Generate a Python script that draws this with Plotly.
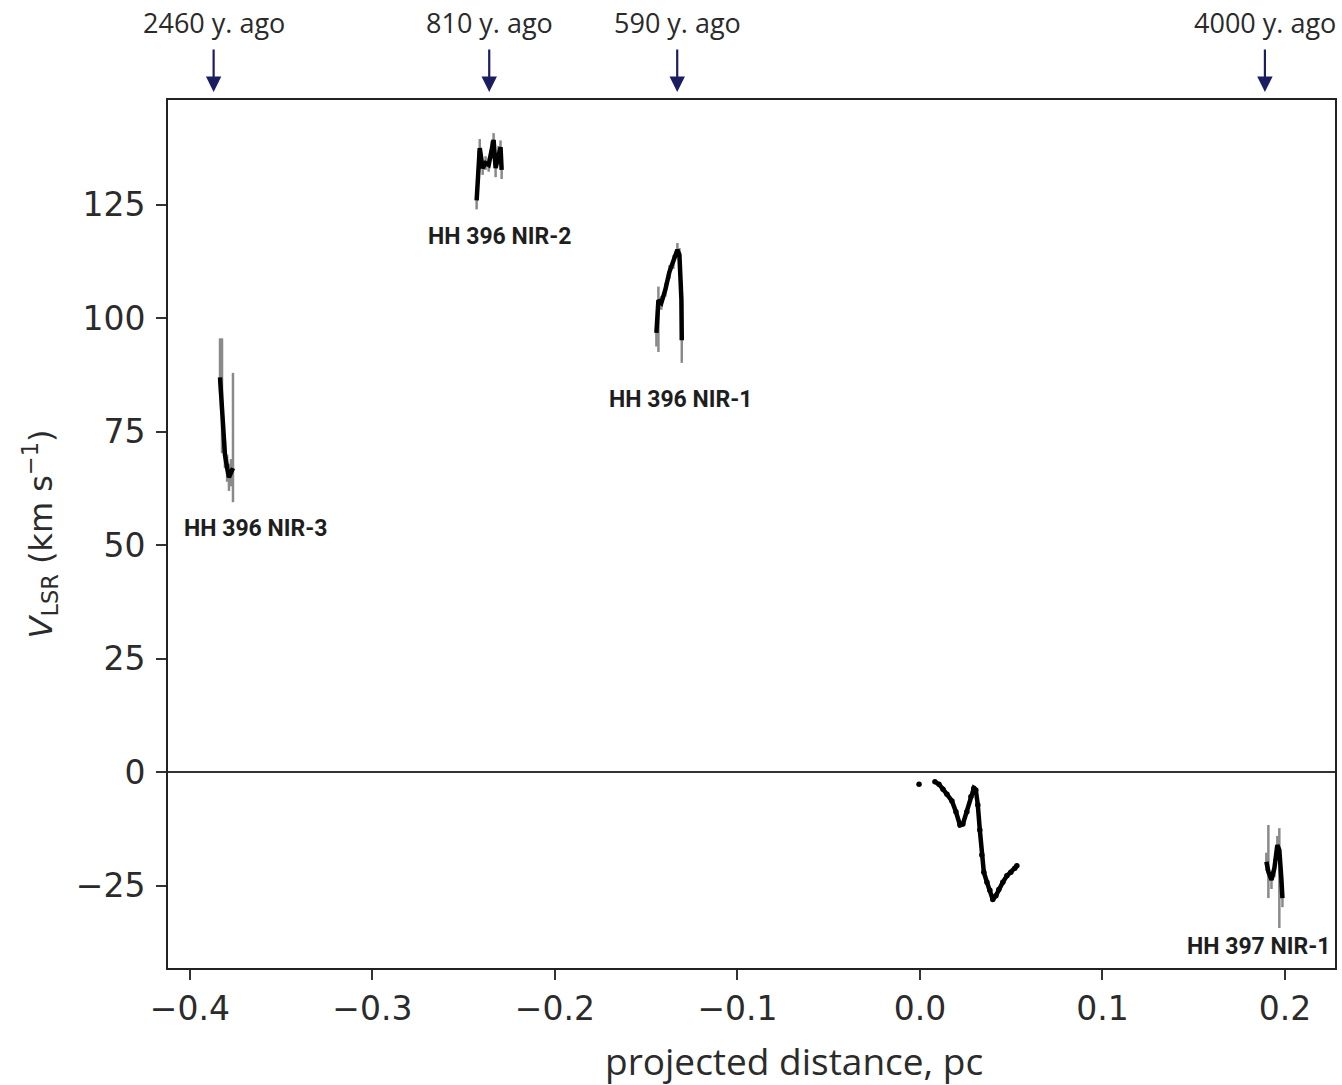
import plotly.graph_objects as go

# ---- HH 396 / HH 397 radial velocity profiles along the flow ----

# HH 396 NIR-3
nir3_x = [-0.3835, -0.3829, -0.3824, -0.3818, -0.3808, -0.3796, -0.3786, -0.3775, -0.3764]
nir3_v = [87.0, 83.0, 78.0, 74.0, 70.0, 67.0, 65.0, 66.0, 67.0]
nir3_hi = [8.6, 3.0, 17.6, 3.0, 3.0, 3.0, 3.0, 3.0, 21.0]
nir3_lo = [3.0, 3.0, 7.7, 3.0, 3.0, 3.0, 3.0, 3.0, 7.5]

# HH 396 NIR-2
nir2_x = [-0.2429, -0.2423, -0.2418, -0.2412, -0.2396, -0.2380, -0.2363,
          -0.2347, -0.2336, -0.2325, -0.2309, -0.2298, -0.2292]
nir2_v = [126.0, 130.5, 134.9, 137.5, 133.1, 134.2, 133.8,
          137.1, 139.3, 133.1, 136.0, 137.7, 132.7]
nir2_hi = [2.0, 2.0, 2.0, 2.0, 1.5, 1.5, 1.5, 2.0, 1.5, 2.0, 2.0, 1.5, 2.0]
nir2_lo = [2.0, 2.0, 2.0, 2.0, 1.5, 1.5, 1.5, 2.0, 1.5, 2.0, 2.0, 1.5, 2.0]

# HH 396 NIR-1
nir1_x = [-0.1444, -0.1439, -0.1433, -0.1417, -0.1395, -0.1373, -0.1351,
          -0.1329, -0.1318, -0.1307, -0.1305]
nir1_v = [96.8, 101.8, 104.0, 103.4, 106.3, 110.2, 112.4, 115.1, 114.0, 104.1, 95.2]
nir1_hi = [2.0, 2.0, 3.0, 1.5, 1.5, 1.5, 1.5, 1.5, 1.5, 1.5, 1.5]
nir1_lo = [3.0, 2.0, 11.4, 1.5, 1.5, 1.5, 1.5, 1.5, 1.5, 1.5, 5.0]

# Emission near the source (gap after the first sample)
core_x = [-0.0005, None, 0.0082, 0.0104, 0.0126, 0.0148, 0.0175, 0.0197, 0.0219,
          0.0235, 0.0257, 0.0279, 0.0295, 0.0306, 0.0317, 0.0328, 0.0339, 0.0350,
          0.0367, 0.0383, 0.0399, 0.0416, 0.0432, 0.0454, 0.0476, 0.0498, 0.0520, 0.0531]
core_v = [-2.6, None, -2.1, -2.6, -3.7, -4.8, -6.3, -8.7, -11.6,
          -11.4, -8.7, -5.4, -3.5, -3.9, -7.2, -12.7, -18.2, -22.0,
          -24.2, -26.0, -28.0, -27.2, -25.8, -24.2, -22.8, -22.0, -21.1, -20.6]

# HH 397 NIR-1
hh397_x = [0.1898, 0.1909, 0.1926, 0.1942, 0.1958, 0.1969, 0.1980, 0.1986]
hh397_v = [-19.7, -21.9, -23.7, -21.1, -16.0, -17.1, -23.3, -27.7]
hh397_hi = [2.0, 10.3, 2.0, 2.0, 2.0, 4.8, 2.0, 2.0]
hh397_lo = [2.0, 5.8, 2.0, 2.0, 2.0, 17.2, 2.0, 2.0]

# Knot labels
knot_names = ["HH 396 NIR-3", "HH 396 NIR-2", "HH 396 NIR-1", "HH 397 NIR-1"]
knot_label_x = [-0.3638, -0.2303, -0.1313, 0.1854]
knot_label_v = [53.8, 118.1, 82.1, -38.3]

# Kinematic ages marked above the panel
age_labels = ["2460 y. ago", "810 y. ago", "590 y. ago", "4000 y. ago"]
age_x = [-0.387, -0.236, -0.133, 0.189]

x_ticks = [-0.4, -0.3, -0.2, -0.1, 0.0, 0.1, 0.2]
y_ticks = [-25, 0, 25, 50, 75, 100, 125]

LINE = "#000000"
ERR = "#8a8a8a"
NAVY = "#1b1d63"
TEXT = "#2b2b2b"

fig = go.Figure()

segments = [
    (nir3_x, nir3_v, nir3_hi, nir3_lo),
    (nir2_x, nir2_v, nir2_hi, nir2_lo),
    (nir1_x, nir1_v, nir1_hi, nir1_lo),
    (hh397_x, hh397_v, hh397_hi, hh397_lo),
]

# error bars first so the profile sits on top of them
for xs, vs, hi, lo in segments:
    fig.add_trace(go.Scatter(
        x=xs, y=vs, mode="markers",
        marker=dict(size=1, opacity=0),
        error_y=dict(type="data", symmetric=False, array=hi, arrayminus=lo,
                     color=ERR, thickness=2.5, width=0),
        showlegend=False, hoverinfo="skip"))

for xs, vs, _, _ in segments:
    fig.add_trace(go.Scatter(
        x=xs, y=vs, mode="lines",
        line=dict(color=LINE, width=4.5),
        showlegend=False))

fig.add_trace(go.Scatter(
    x=core_x, y=core_v, mode="lines+markers",
    line=dict(color=LINE, width=4.5),
    marker=dict(color=LINE, size=5.5),
    connectgaps=False, showlegend=False))

for name, lx, lv in zip(knot_names, knot_label_x, knot_label_v):
    fig.add_annotation(x=lx, y=lv, text=f"<b>{name}</b>", showarrow=False,
                       font=dict(family="Roboto", size=23, color="#1e1e1e"))

for lab, ax_ in zip(age_labels, age_x):
    fig.add_annotation(x=ax_, xref="x", y=1.0092, yref="paper", text="",
                       showarrow=True, ax=0, ay=-44, arrowhead=2, arrowsize=1.4,
                       arrowwidth=2.2, arrowcolor=NAVY)
    fig.add_annotation(x=ax_, xref="x", y=1.0, yref="paper", yanchor="middle",
                       yshift=78, text=lab, showarrow=False,
                       font=dict(family="Open Sans", size=27, color="#2a2a2a"))

# x-axis title, set slightly right of the panel centre
fig.add_annotation(x=0.5364, xref="paper", y=-0.106, yref="paper",
                   yanchor="middle", text="projected distance, pc", showarrow=False,
                   font=dict(family="Open Sans", size=37, color=TEXT))

tick_font = dict(family="DejaVu Sans", size=33, color=TEXT)

fig.update_xaxes(
    range=[-0.412, 0.2274], tickvals=x_ticks, tickformat=".1f",
    ticks="outside", ticklen=10, tickwidth=2, tickcolor="#333333",
    showline=True, linecolor="#222222", linewidth=2, mirror=True,
    showgrid=False, zeroline=False, tickfont=tick_font)

fig.update_yaxes(
    range=[-43.1, 148.1], tickvals=y_ticks,
    ticks="outside", ticklen=10, tickwidth=2, tickcolor="#333333",
    ticklabelstandoff=4,
    showline=True, linecolor="#222222", linewidth=2, mirror=True,
    showgrid=False, zeroline=True, zerolinecolor="#333333", zerolinewidth=2,
    tickfont=tick_font,
    title=dict(text="<i>V</i><sub>LSR</sub> (km s<sup>−1</sup>)", standoff=14,
               font=dict(family="DejaVu Sans", size=32, color=TEXT)))

fig.update_layout(
    width=1342, height=1085,
    margin=dict(l=168, r=5, t=100, b=117),
    plot_bgcolor="white", paper_bgcolor="white",
)

fig.write_html("out.html")
